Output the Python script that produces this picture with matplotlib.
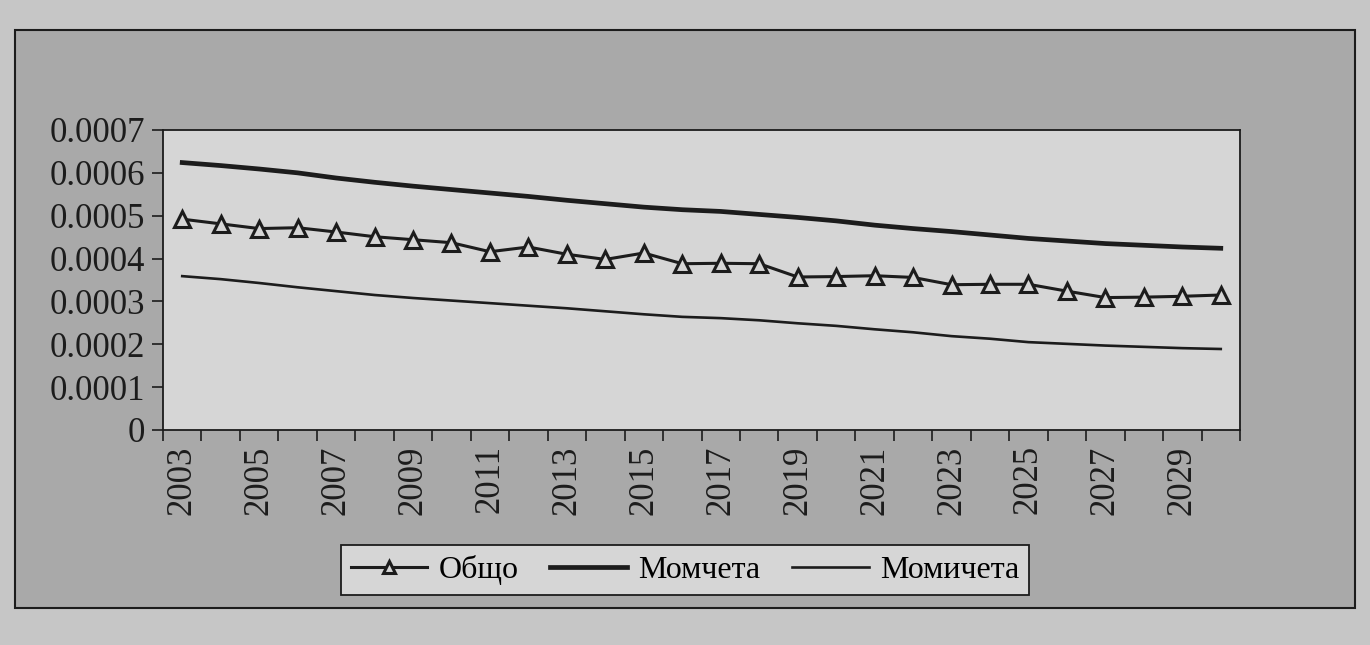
import numpy as np
import matplotlib.pyplot as plt
from matplotlib.patches import Rectangle

plt.rcParams['font.family'] = ['Liberation Serif', 'DejaVu Serif']

years = list(range(2003, 2031))
# values (units of 0.0001)
obshto = [4.92, 4.81, 4.70, 4.72, 4.62, 4.51, 4.44, 4.37, 4.16, 4.27,
          4.10, 3.98, 4.13, 3.88, 3.89, 3.88, 3.57, 3.58, 3.60, 3.56,
          3.39, 3.40, 3.40, 3.24, 3.09, 3.10, 3.12, 3.15]
momcheta = [6.24, 6.17, 6.09, 6.00, 5.88, 5.78, 5.69, 5.61, 5.53, 5.45,
            5.36, 5.28, 5.20, 5.14, 5.10, 5.03, 4.96, 4.88, 4.78, 4.70,
            4.63, 4.55, 4.47, 4.41, 4.35, 4.31, 4.27, 4.24]
momicheta = [3.59, 3.52, 3.43, 3.33, 3.24, 3.15, 3.08, 3.02, 2.96, 2.90,
             2.84, 2.77, 2.70, 2.64, 2.61, 2.56, 2.49, 2.43, 2.35, 2.28,
             2.19, 2.13, 2.05, 2.01, 1.97, 1.94, 1.91, 1.89]
labels = ["Общо", "Момчета", "Момичета"]

obshto = np.array(obshto) * 1e-4
momcheta = np.array(momcheta) * 1e-4
momicheta = np.array(momicheta) * 1e-4

page_col = "#c6c6c6"
chart_col = "#a9a9a9"
plot_col = "#d6d6d6"
ink = "#1c1c1c"

fig = plt.figure(figsize=(13.7, 6.45), dpi=100, facecolor=page_col)

# chart area frame
fig.patches.append(Rectangle((15 / 1370, 1 - 608 / 645), 1340 / 1370, 578 / 645,
                             transform=fig.transFigure, facecolor=chart_col,
                             edgecolor=ink, linewidth=1.5, zorder=-10))

ax = fig.add_axes([163 / 1370, 1 - 430 / 645, 1077 / 1370, 300 / 645])
ax.set_zorder(1)
ax.set_facecolor(plot_col)

x = np.arange(len(years))
ax.plot(x, obshto, color=ink, linewidth=2.2, marker="^", markersize=12,
        markerfacecolor=plot_col, markeredgecolor=ink, markeredgewidth=2.2,
        label=labels[0])
ax.plot(x, momcheta, color=ink, linewidth=3.4, label=labels[1])
ax.plot(x, momicheta, color=ink, linewidth=1.9, label=labels[2])

ax.set_xlim(-0.5, len(years) - 0.5)
ax.set_ylim(0, 0.0007)
ax.set_yticks(np.arange(0, 0.00071, 0.0001))
ax.set_yticklabels(["0"] + [f"{v:.4f}" for v in np.arange(0.0001, 0.00071, 0.0001)])

ax.set_xticks(x[::2])
ax.set_xticklabels([str(y) for y in years[::2]], rotation=90)
ax.set_xticks(np.arange(-0.5, len(years), 1), minor=True)
ax.tick_params(axis="x", which="major", length=0, pad=11, labelsize=25, colors=ink)
ax.tick_params(axis="x", which="minor", length=8, width=1.2, color=ink)
ax.tick_params(axis="y", length=8, width=1.2, labelsize=25, colors=ink, pad=5)

for s in ax.spines.values():
    s.set_color(ink)
    s.set_linewidth(1.3)

leg = fig.legend(loc="center", bbox_to_anchor=(685 / 1370, 1 - 570 / 645), ncol=3,
                 fontsize=23, frameon=True, fancybox=False, handlelength=2.4,
                 columnspacing=1.0, handletextpad=0.35, borderpad=0.3,
                 markerscale=0.75)
leg.get_frame().set_facecolor(plot_col)
leg.get_frame().set_edgecolor(ink)
leg.get_frame().set_linewidth(1.3)
leg.get_frame().set_alpha(1)

fig.savefig("out.png", dpi=100, facecolor=page_col)
